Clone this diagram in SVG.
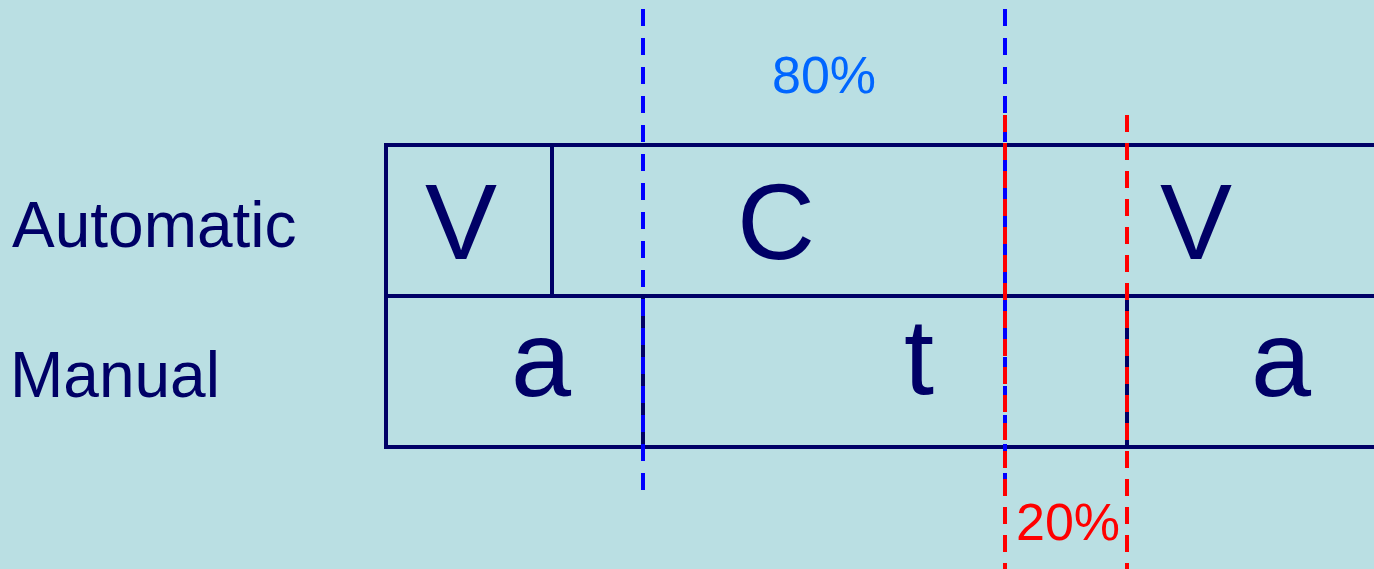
<svg xmlns="http://www.w3.org/2000/svg" width="1374" height="569" viewBox="0 0 1374 569">
<style>
.grid{stroke:#000066;stroke-width:4;fill:none}
.big{font-family:"Liberation Sans",Arial,sans-serif;font-size:108px;fill:#000066;text-anchor:middle}
.lbl{font-family:"Liberation Sans",Arial,sans-serif;font-size:64px;fill:#000066}
.pct{font-family:"Liberation Sans",Arial,sans-serif;font-size:52px}
.blue{stroke:#0000FF;stroke-width:4;stroke-dasharray:17 12;fill:none}
.red{stroke:#FF0000;stroke-width:4;stroke-dasharray:17 11;fill:none}
</style>
<rect x="0" y="0" width="1374" height="569" fill="#BADFE3"/>
<g id="row-labels">
<text class="lbl" x="12" y="247">Automatic</text>
<text class="lbl" x="10" y="397">Manual</text>
</g>
<g id="table">
<path class="grid" d="M1374,145 H386 V447 H1374 M386,296 H1374 M552,145 V296 M1005,145 V296 M643,296 V447 M1127,296 V447"/>
</g>
<g id="auto-V1"><text class="big" x="461" y="259">V</text></g>
<g id="auto-C"><text class="big" x="776" y="259">C</text></g>
<g id="auto-V2"><text class="big" x="1196" y="259">V</text></g>
<g id="man-a1"><text class="big" x="541" y="396">a</text></g>
<g id="man-t"><text class="big" x="919" y="394">t</text></g>
<g id="man-a2"><text class="big" x="1281" y="396">a</text></g>
<g id="connectors">
<line class="blue" x1="643" y1="9" x2="643" y2="490"/>
<line class="blue" x1="1005" y1="9" x2="1005" y2="490"/>
<line class="red" x1="1005" y1="115" x2="1005" y2="569"/>
<line class="red" x1="1127" y1="115" x2="1127" y2="569"/>
</g>
<g id="pct-labels">
<text class="pct" x="772" y="93" fill="#0066FF">80%</text>
<text class="pct" x="1016" y="540" fill="#FF0000">20%</text>
</g>
</svg>
